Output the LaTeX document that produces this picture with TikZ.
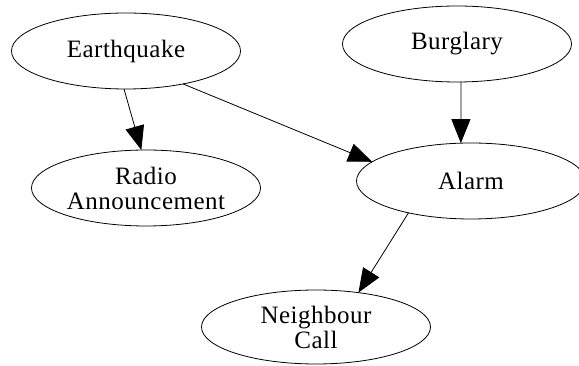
\documentclass[tikz,border=0pt]{standalone}
\usepackage{fontspec}
\setmainfont{Liberation Serif}
\newfontfamily\lblfont[LetterSpace=2]{Liberation Serif}
\usetikzlibrary{shapes.geometric,arrows.meta}
\newcommand{\lblsize}{\lblfont\fontsize{25}{25}\selectfont}
\tikzset{
  bnnode/.style={ellipse, draw, line width=0.8pt, inner sep=0pt, outer sep=0pt,
    minimum width=229pt, minimum height=76pt, align=center, font=\lblsize},
  causal/.style={-{Triangle[length=24pt,width=19pt]}, line width=0.8pt}
}

\begin{document}
\begin{tikzpicture}[x=1pt,y=1pt]
\useasboundingbox (0,0) rectangle (579,366);
% the five variables
\node[bnnode] (quake) at (126,315) {Earthquake};
\node[bnnode] (burglary) at (457,322) {Burglary};
\node[bnnode] (radio) at (146,178) {Radio\\Announcement};
\node[bnnode] (alarm) at (471,185) {Alarm};
\node[bnnode, minimum height=74pt] (neighbour) at (316,39) {Neighbour\\Call};
% causal links
\draw[causal] (quake.267) -- (radio.97);
\draw[causal] (quake.330.7) -- (alarm.169);
\draw[causal] (burglary.276) -- (alarm.105);
\draw[causal] (alarm.207.7) -- (neighbour.39.8);
\end{tikzpicture}
\end{document}
